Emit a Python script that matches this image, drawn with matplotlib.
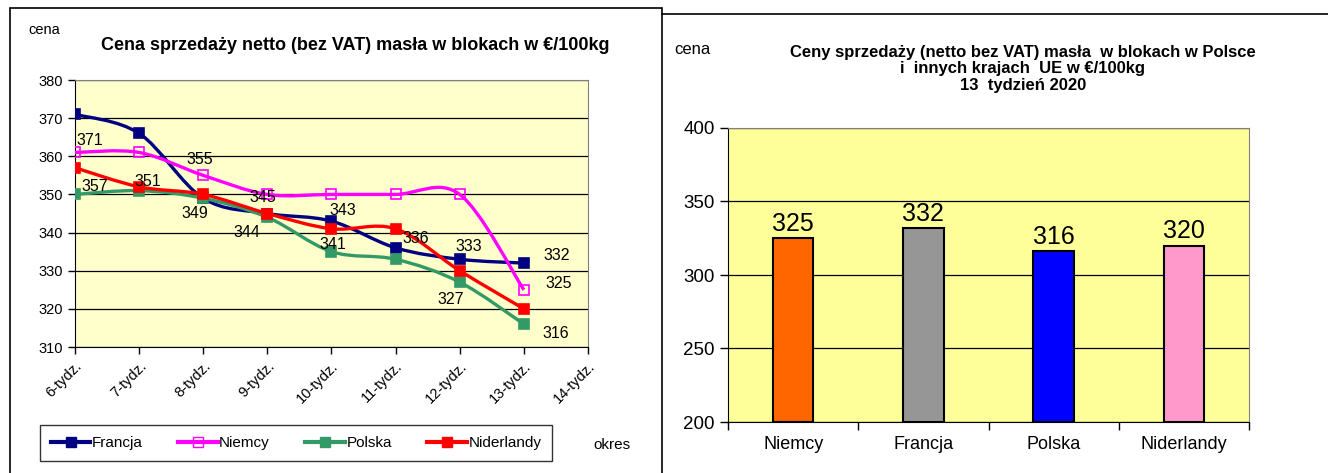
import numpy as np
import matplotlib
matplotlib.use("Agg")
import matplotlib.pyplot as plt
from matplotlib.path import Path
from matplotlib.patches import PathPatch, Rectangle
from matplotlib.lines import Line2D

plt.rcParams['font.family'] = ['Liberation Sans Narrow', 'Liberation Sans', 'DejaVu Sans']

# dane - wykres liniowy
tygodnie = ["6-tydz.", "7-tydz.", "8-tydz.", "9-tydz.", "10-tydz.",
            "11-tydz.", "12-tydz.", "13-tydz.", "14-tydz."]
francja = [371, 366, 349, 345, 343, 336, 333, 332]
niemcy = [361, 361, 355, 350, 350, 350, 350, 325]
polska = [350, 351, 349, 344, 335, 333, 327, 316]
niderlandy = [357, 352, 350, 345, 341, 341, 330, 320]

# etykiety: (seria, indeks tygodnia, tekst)
etykiety = [("francja", 0, "371"), ("niderlandy", 0, "357"), ("polska", 1, "351"),
            ("niemcy", 2, "355"), ("polska", 2, "349"), ("francja", 3, "345"),
            ("polska", 3, "344"), ("francja", 4, "343"), ("niderlandy", 4, "341"),
            ("francja", 5, "336"), ("francja", 6, "333"), ("polska", 6, "327"),
            ("francja", 7, "332"), ("niemcy", 7, "325"), ("polska", 7, "316")]
# przesuniecia etykiet w pikselach
przesuniecia = [(15, -26), (20, -19), (9, 9), (-3, 16), (-8, -15), (-5, 16),
                (-20, -15), (11, 11), (1, -16), (20, 9), (9, 13), (-9, -17),
                (33, 8), (35, 6), (32, -9)]

# dane - wykres slupkowy
kraje = ["Niemcy", "Francja", "Polska", "Niderlandy"]
ceny_13 = [325, 332, 316, 320]
kolory_slupkow = ["#FF6600", "#969696", "#0000FF", "#FF99CC"]

serie = {"francja": francja, "niemcy": niemcy, "polska": polska, "niderlandy": niderlandy}
nazwy = {"francja": "Francja", "niemcy": "Niemcy", "polska": "Polska", "niderlandy": "Niderlandy"}
kolory = {"francja": "#000080", "niemcy": "#FF00FF", "polska": "#339966", "niderlandy": "#FF0000"}


def gladka_sciezka(x, y):
    # krzywa Beziera jak w Excelu (wygladzona linia)
    pts = np.column_stack([x, y]).astype(float)
    verts = [pts[0]]
    codes = [Path.MOVETO]
    n = len(pts)
    for i in range(n - 1):
        p0 = pts[max(i - 1, 0)]
        p1 = pts[i]
        p2 = pts[i + 1]
        p3 = pts[min(i + 2, n - 1)]
        c1 = p1 + (p2 - p0) / 6.0
        c2 = p2 - (p3 - p1) / 6.0
        verts += [c1, c2, p2]
        codes += [Path.CURVE4] * 3
    return Path(verts, codes)


fig = plt.figure(figsize=(13.28, 4.73), dpi=100)

# ramki paneli
fig.add_artist(Rectangle((10 / 1328, -0.01), 652 / 1328, 1 - 8 / 473 + 0.01,
                         transform=fig.transFigure, fill=False, lw=1.2, ec="black"))
fig.add_artist(Line2D([662 / 1328, 1.0], [1 - 14 / 473, 1 - 14 / 473],
                      transform=fig.transFigure, lw=1.2, color="black"))

# ---- wykres liniowy ----
ax1 = fig.add_axes([75 / 1328, 1 - 347 / 473, 513 / 1328, 267 / 473])
ax1.set_facecolor("#FFFFCC")
x = np.arange(len(francja))
for klucz, wartosci in serie.items():
    ax1.add_patch(PathPatch(gladka_sciezka(x, wartosci), fill=False,
                            ec=kolory[klucz], lw=2.4, zorder=3))
    fc = "none" if klucz == "niemcy" else kolory[klucz]
    ax1.plot(x, wartosci, ls="none", marker="s", ms=6.5, mfc=fc,
             mec=kolory[klucz], mew=1.2, zorder=4)

for (klucz, i, tekst), (dx, dy) in zip(etykiety, przesuniecia):
    ax1.annotate(tekst, (x[i], serie[klucz][i]), xytext=(dx, dy),
                 textcoords="offset pixels", ha="center", va="center",
                 fontsize=11.5, zorder=5)

ax1.set_xlim(0, len(tygodnie) - 1)
ax1.set_ylim(310, 380)
ax1.set_yticks(range(310, 381, 10))
ax1.set_xticks(range(len(tygodnie)))
ax1.set_xticklabels(tygodnie, rotation=45, ha="right", va="top",
                    rotation_mode="anchor", fontsize=10.5)
ax1.tick_params(axis="y", labelsize=10.5, length=5, width=1)
ax1.tick_params(axis="x", length=5, width=1)
ax1.grid(axis="y", color="black", lw=0.9)
ax1.set_axisbelow(True)
for s in ["top", "right"]:
    ax1.spines[s].set_color("#808080")
for s in ["left", "bottom"]:
    ax1.spines[s].set_color("black")

fig.text(355 / 1328, 1 - 45 / 473, "Cena sprzedaży netto (bez VAT) masła w blokach w €/100kg",
         ha="center", va="center", fontsize=13, fontweight="bold")
fig.text(44 / 1328, 1 - 30 / 473, "cena", ha="center", va="center", fontsize=10.5)
fig.text(612 / 1328, 1 - 445 / 473, "okres", ha="center", va="center", fontsize=11)

uchwyty = []
for klucz in serie:
    fc = "none" if klucz == "niemcy" else kolory[klucz]
    uchwyty.append(Line2D([], [], color=kolory[klucz], lw=3, marker="s", ms=6.5,
                          mfc=fc, mec=kolory[klucz], label=nazwy[klucz]))
leg = fig.legend(handles=uchwyty, loc="center", ncol=4,
                 bbox_to_anchor=(296 / 1328, 1 - 443 / 473), frameon=True,
                 fancybox=False, edgecolor="black", fontsize=11,
                 handlelength=2.6, handletextpad=0.1, columnspacing=2.3,
                 borderpad=0.7)
leg.get_frame().set_linewidth(1.0)

# ---- wykres slupkowy ----
ax2 = fig.add_axes([728 / 1328, 1 - 422 / 473, 521 / 1328, 294 / 473])
ax2.set_facecolor("#FFFF99")
poz = np.arange(len(kraje))
slupki = ax2.bar(poz, [c - 200 for c in ceny_13], bottom=200, width=0.31,
                 color=kolory_slupkow, edgecolor="black", lw=1.5, zorder=3)
for p, c in zip(poz, ceny_13):
    ax2.text(p, c + 1.5, str(c), ha="center", va="bottom", fontsize=18, zorder=4)

ax2.set_xlim(-0.5, len(kraje) - 0.5)
ax2.set_ylim(200, 400)
ax2.set_yticks(range(200, 401, 50))
ax2.set_xticks(np.arange(-0.5, len(kraje), 1.0))
ax2.set_xticklabels([])
ax2.set_xticks(poz, minor=True)
ax2.set_xticklabels(kraje, minor=True, fontsize=13)
ax2.tick_params(axis="x", which="minor", length=0, pad=10)
ax2.tick_params(axis="x", which="major", length=6, width=1)
ax2.tick_params(axis="y", labelsize=13.5, length=6, width=1)
ax2.grid(axis="y", color="black", lw=0.9)
ax2.set_axisbelow(True)
for s in ["top", "right"]:
    ax2.spines[s].set_color("#808080")
for s in ["left", "bottom"]:
    ax2.spines[s].set_color("black")

fig.text(692 / 1328, 1 - 50 / 473, "cena", ha="center", va="center", fontsize=12)
fig.text(1023 / 1328, 1 - 69 / 473,
         "Ceny sprzedaży (netto bez VAT) masła  w blokach w Polsce\n"
         "i  innych krajach  UE w €/100kg\n13  tydzień 2020",
         ha="center", va="center", fontsize=12, fontweight="bold", linespacing=1.15)

fig.savefig("out.png", dpi=100)
